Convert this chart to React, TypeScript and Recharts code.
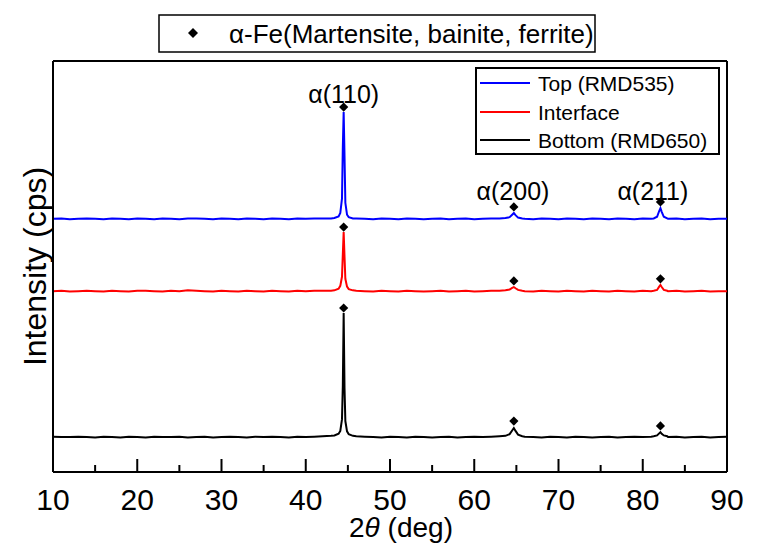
import React from 'react';
import {
  ComposedChart,
  Line,
  Scatter,
  XAxis,
  YAxis,
  ReferenceLine,
} from 'recharts';

// 2θ positions (deg) of the sampled points
const angles = [
  10, 11, 12, 13, 14, 15, 16, 17, 18, 19, 20, 21, 22, 23, 24, 25, 26, 27, 28, 29,
  30, 31, 32, 33, 34, 35, 36, 37, 38, 39, 40, 41, 42, 43,
  43.4, 43.9, 44.1, 44.3, 44.4, 44.5, 44.6, 44.7, 44.9, 45.1, 45.6,
  46, 47, 48, 49, 50, 51, 52, 53, 54, 55, 56, 57, 58, 59, 60, 61, 62, 63,
  63.7, 64.2, 64.5, 64.7, 64.9, 65.2, 65.7,
  66, 67, 68, 69, 70, 71, 72, 73, 74, 75, 76, 77, 78, 79, 80, 81,
  81.3, 81.7, 81.95, 82.1, 82.25, 82.5, 82.9,
  83, 84, 85, 86, 87, 88, 89, 90,
];

// Stacked intensities (cps, offset for display)
const topRMD535 = [
  616, 617, 615, 616, 617, 616, 615, 617, 616, 615, 617, 616, 615, 617, 616, 615, 617, 617, 616, 615,
  617, 616, 615, 617, 616, 615, 617, 616, 615, 617, 616, 617, 617, 617,
  618, 622, 630, 665, 790, 876, 770, 655, 626, 620, 617,
  617, 616, 615, 617, 616, 615, 617, 616, 615, 616, 617, 615, 616, 617, 615, 616, 617, 617,
  618, 620, 626, 630, 625, 619, 617,
  616, 615, 617, 616, 615, 617, 616, 615, 617, 616, 615, 617, 616, 615, 617, 616,
  617, 621, 635, 642, 633, 621, 617,
  616, 617, 615, 616, 617, 615, 616, 616,
];

const interfaceRMD = [
  440, 441, 439, 440, 441, 440, 439, 441, 440, 439, 441, 441, 440, 439, 441, 440, 442, 441, 440, 439,
  441, 440, 439, 441, 440, 439, 441, 440, 439, 441, 440, 441, 441, 441,
  442, 446, 453, 475, 530, 584, 525, 470, 451, 445, 442,
  441, 440, 439, 441, 440, 439, 441, 440, 439, 440, 441, 439, 440, 441, 439, 440, 441, 441,
  442, 444, 448, 450, 447, 443, 441,
  440, 439, 441, 440, 439, 441, 440, 439, 441, 440, 439, 441, 440, 439, 441, 440,
  441, 443, 451, 455, 450, 443, 441,
  440, 441, 439, 440, 441, 439, 440, 440,
];

const bottomRMD650 = [
  86, 85, 85, 86, 85, 84, 86, 85, 84, 86, 85, 84, 86, 85, 85, 86, 84, 85, 86, 84,
  85, 86, 85, 84, 86, 85, 86, 85, 84, 86, 85, 86, 87, 88,
  89, 93, 100, 128, 210, 387, 205, 124, 99, 92, 88,
  87, 86, 85, 84, 86, 85, 84, 86, 85, 84, 85, 86, 84, 85, 86, 85, 86, 87,
  88, 92, 101, 107, 100, 91, 87,
  86, 85, 84, 86, 85, 84, 86, 85, 84, 85, 86, 84, 85, 86, 85, 86,
  87, 89, 94, 97, 93, 89, 87,
  85, 86, 84, 85, 86, 84, 85, 86,
];

// α-Fe reflections and marker heights for each trace
const peakAngles = [44.5, 64.7, 82.1];
const markerTop = [888, 645, 657];
const markerInterface = [596, 465, 470];
const markerBottom = [399, 124, 112];

// Reflection labels
const peakLabelText = ['α(110)', 'α(200)', 'α(211)'];
const peakLabelAngles = [44.5, 64.6, 81.2];
const peakLabelHeights = [898, 662, 662];

// x axis ticks (major every 10°, minor every 5°)
const xTicks = [10, 15, 20, 25, 30, 35, 40, 45, 50, 55, 60, 65, 70, 75, 80, 85, 90];
const xTickLabels = ['10', '20', '30', '40', '50', '60', '70', '80', '90'];

const X_MIN = 10;
const X_MAX = 90;
const Y_MIN = 0;
const Y_MAX = 1000;

const seriesNames = ['Top (RMD535)', 'Interface', 'Bottom (RMD650)'];
const seriesColors = ['#0000ff', '#ff0000', '#000000'];
const phaseLegend = 'α-Fe(Martensite, bainite, ferrite)';

const FONT = '"Liberation Sans", Arial, Helvetica, sans-serif';

const chartData = angles.map((a, i) => ({
  angle: a,
  top: topRMD535[i],
  interface: interfaceRMD[i],
  bottom: bottomRMD650[i],
}));

const markerData = [
  ...peakAngles.map((a, i) => ({ angle: a, v: markerTop[i] })),
  ...peakAngles.map((a, i) => ({ angle: a, v: markerInterface[i] })),
  ...peakAngles.map((a, i) => ({ angle: a, v: markerBottom[i] })),
];

const labelData = peakLabelText.map((t, i) => ({
  angle: peakLabelAngles[i],
  v: peakLabelHeights[i],
  text: t,
}));

const Diamond = (props: any) => {
  const { cx, cy } = props;
  const r = 4.6;
  return (
    <polygon
      points={`${cx},${cy - r} ${cx + r},${cy} ${cx},${cy + r} ${cx - r},${cy}`}
      fill="#000"
    />
  );
};

const PeakLabel = (props: any) => {
  const { cx, cy, payload } = props;
  return (
    <text x={cx} y={cy} textAnchor="middle" fontSize={25} fontFamily={FONT} fill="#000">
      {payload.text}
    </text>
  );
};

const XTick = (props: any) => {
  const { x, y, payload } = props;
  const value = payload.value as number;
  const label = xTickLabels.find((l) => Number(l) === value);
  const major = label !== undefined;
  return (
    <g>
      <line x1={x} x2={x} y1={y} y2={y - (major ? 13 : 7)} stroke="#000" strokeWidth={2} />
      {major && (
        <text x={x} y={y + 38} textAnchor="middle" fontSize={30} fontFamily={FONT} fill="#000">
          {label}
        </text>
      )}
    </g>
  );
};

const XTitle = (props: any) => {
  const { viewBox } = props;
  const cx = viewBox.x + viewBox.width / 2 + 11;
  return (
    <text x={cx} y={viewBox.y + 65} textAnchor="middle" fontSize={28} fontFamily={FONT} fill="#000">
      2<tspan fontStyle="italic">θ</tspan> (deg)
    </text>
  );
};

const Legends = () => (
  <svg
    width={745}
    height={544}
    style={{ position: 'absolute', left: 0, top: 0, pointerEvents: 'none' }}
  >
    {/* phase marker legend */}
    <rect x={151} y={7} width={436} height={37} fill="#fff" stroke="#000" strokeWidth={1.5} />
    <polygon points="185,20 190,25 185,30 180,25" fill="#000" />
    <text x={221} y={35} fontSize={26} fontFamily={FONT} fill="#000">
      {phaseLegend}
    </text>
    {/* series legend */}
    <rect x={468} y={60} width={243} height={86} fill="#fff" stroke="#000" strokeWidth={2} />
    {seriesNames.map((name, i) => {
      const yy = [75, 104, 132][i];
      return (
        <g key={name}>
          <line x1={472} x2={522} y1={yy} y2={yy} stroke={seriesColors[i]} strokeWidth={2} />
          <text x={530} y={yy + 7.5} fontSize={21} fontFamily={FONT} fill="#000">
            {name}
          </text>
        </g>
      );
    })}
  </svg>
);

export default function App() {
  return (
    <div style={{ position: 'relative', width: 745, height: 544 }}>
      <ComposedChart
        width={745}
        height={544}
        data={chartData}
        margin={{ top: 53, right: 26, bottom: 0, left: 0 }}
      >
        <XAxis
          dataKey="angle"
          type="number"
          domain={[X_MIN, X_MAX]}
          ticks={xTicks}
          interval={0}
          height={80}
          tickSize={0}
          tickMargin={0}
          tickLine={false}
          tick={<XTick />}
          axisLine={{ stroke: '#000', strokeWidth: 2 }}
          allowDataOverflow
          label={<XTitle />}
        />
        <YAxis
          type="number"
          domain={[Y_MIN, Y_MAX]}
          width={45}
          tick={false}
          tickLine={false}
          axisLine={{ stroke: '#000', strokeWidth: 2 }}
          allowDataOverflow
          label={{
            value: 'Intensity (cps)',
            angle: -90,
            position: 'center',
            dx: 4,
            style: { fontSize: 32, fontFamily: FONT, fill: '#000' },
          }}
        />
        {/* top and right edges of the frame */}
        <ReferenceLine y={Y_MAX} stroke="#000" strokeWidth={2} ifOverflow="visible" />
        <ReferenceLine x={X_MAX} stroke="#000" strokeWidth={2} ifOverflow="visible" />
        <Line
          dataKey="top"
          name={seriesNames[0]}
          stroke={seriesColors[0]}
          strokeWidth={2}
          dot={false}
          activeDot={false}
          type="linear"
          isAnimationActive={false}
        />
        <Line
          dataKey="interface"
          name={seriesNames[1]}
          stroke={seriesColors[1]}
          strokeWidth={2}
          dot={false}
          activeDot={false}
          type="linear"
          isAnimationActive={false}
        />
        <Line
          dataKey="bottom"
          name={seriesNames[2]}
          stroke={seriesColors[2]}
          strokeWidth={2}
          dot={false}
          activeDot={false}
          type="linear"
          isAnimationActive={false}
        />
        <Scatter
          data={markerData}
          dataKey="v"
          shape={<Diamond />}
          isAnimationActive={false}
        />
        <Scatter
          data={labelData}
          dataKey="v"
          shape={<PeakLabel />}
          isAnimationActive={false}
        />
      </ComposedChart>
      <Legends />
    </div>
  );
}
